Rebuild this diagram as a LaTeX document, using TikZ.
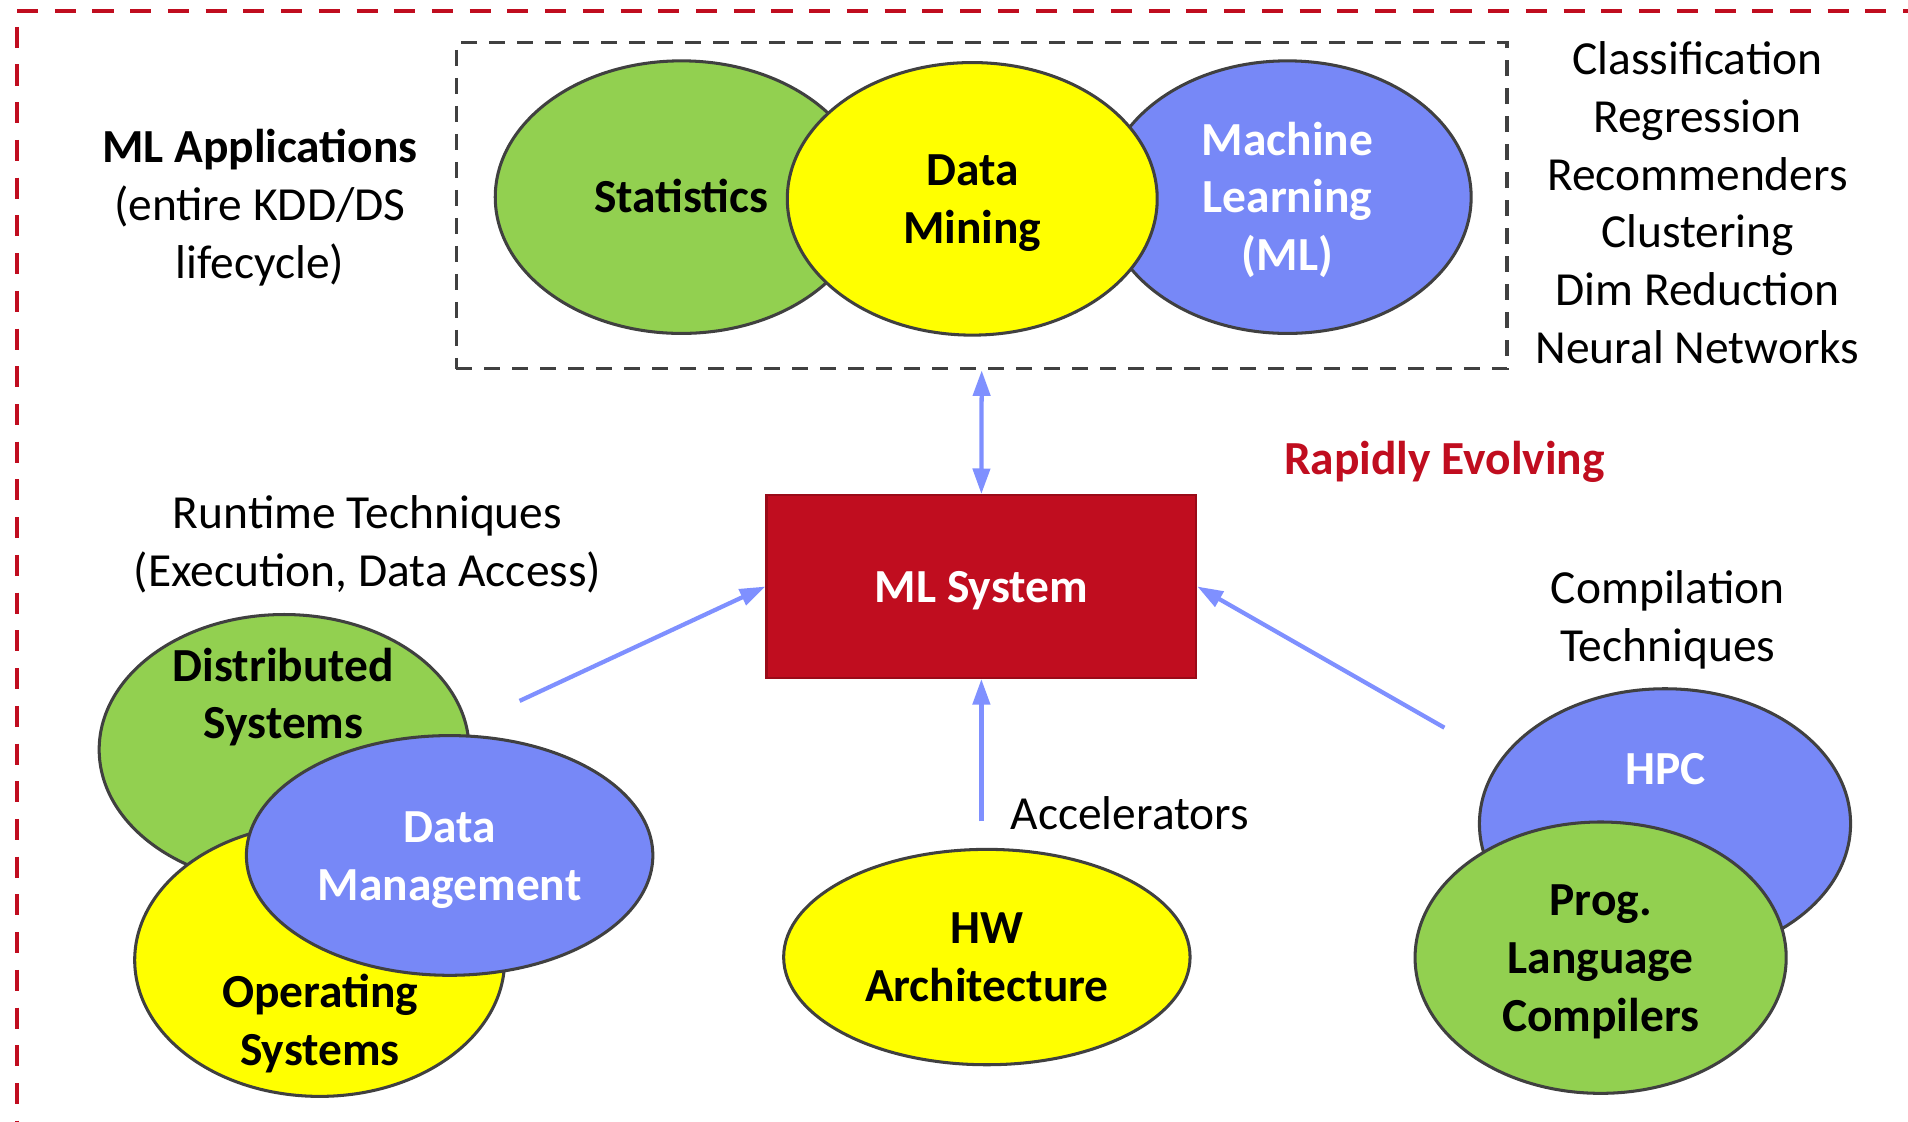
\documentclass[tikz,border=0pt]{standalone}
\usepackage{fontspec}
\setmainfont{Carlito}
\usetikzlibrary{shapes.geometric,arrows.meta}
\definecolor{mlgreen}{HTML}{92D050}
\definecolor{mlyellow}{HTML}{FFFF00}
\definecolor{mlblue}{HTML}{7788F7}
\definecolor{arrowblue}{HTML}{7F90FF}
\definecolor{boxred}{HTML}{C00D1F}
\definecolor{boxedge}{HTML}{9A0A18}
\definecolor{outl}{HTML}{404040}
\newcommand\lst{\rule[-7pt]{0pt}{40pt}}
\begin{document}
\begin{tikzpicture}[x=1pt, y=-1pt,
  font=\fontsize{39}{47.5}\selectfont,
  bfont/.style={font=\fontsize{39}{47.5}\selectfont\bfseries},
  ell/.style={ellipse, draw=outl, line width=2.5pt, inner sep=0pt, align=center, bfont},
  txt/.style={align=center, inner sep=0pt},
  conn/.style={draw=arrowblue, line width=3.5pt, -{Triangle[length=21pt,width=14pt]}},
  dconn/.style={draw=arrowblue, line width=3.5pt, {Triangle[length=21pt,width=14pt]}-{Triangle[length=21pt,width=14pt]}},
  reddash/.style={draw=boxred, line width=4pt, dash pattern=on 17.3pt off 13.7pt}]
\useasboundingbox (0,0) rectangle (1568,922);
% outer red dashed frame (right and bottom sides lie outside the picture)
\draw[reddash] (14,9) -- (1580,9);
\draw[reddash] (14,22) -- (14,935);
% applications box
\node[draw=outl, line width=2.7pt, dash pattern=on 13pt off 10pt, minimum width=863.5pt, minimum height=268pt, inner sep=0pt] (appbox) at (806.75,169) {};
\node[ell, fill=mlgreen, minimum width=306pt, minimum height=224pt] (stat) at (560,162) {\lst Statistics};
\node[ell, fill=mlblue, text=white, minimum width=302pt, minimum height=224pt] (ml) at (1058,162) {\lst Machine\\\lst Learning\\\lst (ML)};
\node[ell, fill=mlyellow, minimum width=304pt, minimum height=224pt] (dm) at (799,163.4) {\lst Data\\\lst Mining};
% side texts
\node[txt] (mlapp) at (213.5,168) {{\bfseries\lst ML Applications}\\\lst (entire KDD/DS\\\lst lifecycle)};
\node[txt] (tasks) at (1395,166.9) {\lst Classification\\\lst Regression\\\lst Recommenders\\\lst Clustering\\\lst Dim Reduction\\\lst Neural Networks};
\node[txt, bfont, text=boxred] (rapid) at (1187,377) {\lst Rapidly Evolving};
\node[txt] (runtime) at (302,445) {\lst Runtime Techniques\\\lst (Execution, Data Access)};
\node[txt] (compil) at (1370.5,507) {\lst Compilation\\\lst Techniques};
\node[txt] (accel) at (928.5,669) {\lst Accelerators};
% ML system
\node[draw=boxedge, fill=boxred, line width=2pt, minimum width=353pt, minimum height=150pt, inner sep=0pt, text=white, bfont] (mlsys) at (806.5,482) {\lst ML System};
% bottom-left cluster
\node[ell, fill=mlgreen, minimum width=304pt, minimum height=222pt] (dist) at (233.5,616) {};
\node[ell, fill=mlyellow, minimum width=304pt, minimum height=224pt] (os) at (262.7,789) {};
\node[ell, fill=mlblue, text=white, minimum width=334pt, minimum height=197pt] (dmgmt) at (369.5,703) {\lst Data\\\lst Management};
\node[txt, bfont] (disttxt) at (233,570.5) {\lst Distributed\\\lst Systems};
\node[txt, bfont] (ostxt) at (263,839) {\lst Operating\\\lst Systems};
% HW
\node[ell, fill=mlyellow, minimum width=334pt, minimum height=177pt] (hw) at (811,786.5) {\lst HW\\\lst Architecture};
% right cluster
\node[ell, fill=mlblue, minimum width=305pt, minimum height=222pt] (hpc) at (1368.3,677) {};
\node[txt, bfont, text=white] (hpctxt) at (1368.5,631.5) {\lst HPC};
\node[ell, fill=mlgreen, minimum width=305pt, minimum height=223pt] (prog) at (1315.4,787) {\lst Prog.\\\lst Language\\\lst Compilers};
% connectors
\coordinate (lstart) at (427,576);
\coordinate (rstart) at (1187,598);
\coordinate (bstart) at (806.5,675);
\draw[dconn] (appbox.south) -- (mlsys.north);
\draw[conn] (lstart) -- (mlsys.west);
\draw[conn] (rstart) -- (mlsys.east);
\draw[conn] (bstart) -- (mlsys.south);
\end{tikzpicture}
\end{document}
